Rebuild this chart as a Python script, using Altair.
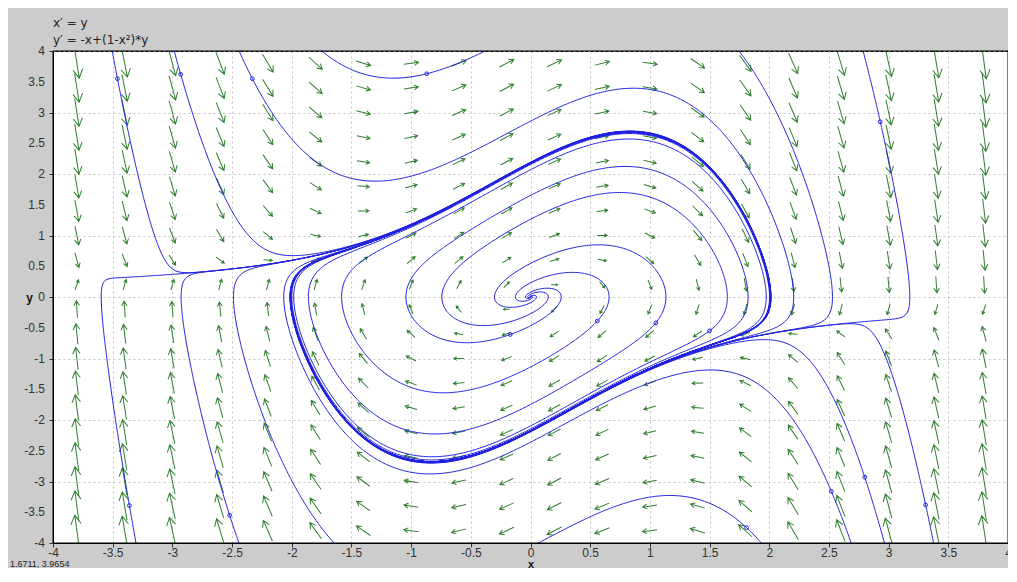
import math
import altair as alt
import numpy as np
import pandas as pd

# ---------------- data ----------------
# system shown on the chart: x' = y, y' = -x + (1 - x^2) * y
grid_x = [-3.8, -3.4, -3.0, -2.6, -2.2, -1.8, -1.4, -1.0, -0.6, -0.2,
          0.2, 0.6, 1.0, 1.4, 1.8, 2.2, 2.6, 3.0, 3.4, 3.8]
grid_y = [-3.8, -3.4, -3.0, -2.6, -2.2, -1.8, -1.4, -1.0, -0.6, -0.2,
          0.2, 0.6, 1.0, 1.4, 1.8, 2.2, 2.6, 3.0, 3.4, 3.8]

# initial points of the solution curves (small circles)
seed_x = [-3.46, -2.93, -2.33, -0.87, 2.93, -3.36, -2.52, -2.22, 1.81,
          2.52, 2.80, 3.31, 1.75, 0.56, 1.05, 1.50, -0.17]
seed_y = [3.55, 3.62, 3.55, 3.63, 2.85, -3.39, -3.55, -2.04, -3.75,
          -3.16, -2.93, -3.38, 3.99, -0.39, -0.42, -0.55, -0.61]
seed_marked = [1, 1, 1, 1, 1, 1, 1, 0, 1, 1, 1, 1, 0, 1, 1, 1, 1]

tick_values = [-4, -3.5, -3, -2.5, -2, -1.5, -1, -0.5, 0,
               0.5, 1, 1.5, 2, 2.5, 3, 3.5, 4]
tick_labels = ["-4", "-3.5", "-3", "-2.5", "-2", "-1.5", "-1", "-0.5", "0",
               "0.5", "1", "1.5", "2", "2.5", "3", "3.5", "4"]

eq1 = "x\u2032 = y"
eq2 = "y\u2032 = -x+(1-x\u00b2)*y"
coord_text = "1.6711, 3.9654"

# ---------------- layout ----------------
W, H = 955, 492
PX, PY = W / 8.0, H / 8.0


def rhs(x, y):
    return y, -x + (1.0 - x * x) * y


def integrate(x0, y0, direction, tmax):
    pts = [(x0, y0)]
    x, y, t = x0, y0, 0.0
    steps = 0
    while t < tmax and steps < 60000:
        steps += 1
        fx, fy = rhs(x, y)
        sp = math.hypot(fx * PX, fy * PY)
        dt = min(0.02, 0.5 / max(sp, 1e-9))
        h = direction * dt
        k1x, k1y = fx, fy
        k2x, k2y = rhs(x + 0.5 * h * k1x, y + 0.5 * h * k1y)
        k3x, k3y = rhs(x + 0.5 * h * k2x, y + 0.5 * h * k2y)
        k4x, k4y = rhs(x + h * k3x, y + h * k3y)
        x += h / 6.0 * (k1x + 2 * k2x + 2 * k3x + k4x)
        y += h / 6.0 * (k1y + 2 * k2y + 2 * k3y + k4y)
        t += dt
        pts.append((x, y))
        if abs(x) > 4.15 or abs(y) > 4.15:
            break
        if direction < 0 and math.hypot(x, y) < 0.004:
            break
    return pts


def thin(pts, dmin=1.5):
    out = [pts[0]]
    for p in pts[1:]:
        q = out[-1]
        if math.hypot((p[0] - q[0]) * PX, (p[1] - q[1]) * PY) >= dmin:
            out.append(p)
    if out[-1] != pts[-1]:
        out.append(pts[-1])
    return out


rows = []
tid = 0
for sx, sy in zip(seed_x, seed_y):
    for d in (1, -1):
        pts = thin(integrate(sx, sy, d, 20.0 if d > 0 else 40.0))
        for i, (px, py) in enumerate(pts):
            rows.append({"tid": tid, "i": i, "x": px, "y": py})
        tid += 1
traj = pd.DataFrame(rows)

seeds = pd.DataFrame({"x": seed_x, "y": seed_y, "m": seed_marked})
seeds = seeds[seeds["m"] == 1]

arows = []
for gx in grid_x:
    for gy in grid_y:
        u, v = rhs(gx, gy)
        m = math.hypot(u, v)
        ang = (math.degrees(math.atan2(u * PX, v * PY)) + 360.0) % 360.0
        L = 10.06 * m ** 0.284
        arows.append({"x": gx, "y": gy, "ang": ang, "size": L * L})
arrows = pd.DataFrame(arows)

ylab = pd.DataFrame({"v": tick_values, "t": tick_labels})

# ---------------- chart ----------------
xs = alt.Scale(domain=[-4, 4], nice=False, zero=False)
ys = alt.Scale(domain=[-4, 4], nice=False, zero=False)

common_axis = dict(
    values=tick_values, grid=True, gridDash=[2, 3], gridColor="#c4c4c4",
    tickSize=4, labelFontSize=12, labelColor="#333333",
    tickColor="#333333", domainColor="#000000",
    labelFont="Liberation Sans", titleFont="Liberation Sans",
    labelOverlap=False, labelFlush=False, titleFontWeight="bold",
    titleColor="#111111",
)
x_axis = alt.Axis(title="x", titleY=24, titleBaseline="alphabetic",
                  titleFontSize=11, labelPadding=0,
                  labelExpr="toString(datum.value)", **common_axis)
y_axis = alt.Axis(title="y", titleAngle=0, titleX=-24, titleY=H / 2,
                  titleAlign="center", titleBaseline="middle",
                  titleFontSize=12, labels=False, **common_axis)

arrow_path = "M0,1L0,-1M-0.33,-0.42L0,-1L0.33,-0.42"

arrow_layer = alt.Chart(arrows).mark_point(
    shape=arrow_path, filled=False, stroke="#2f7f2f", strokeWidth=1,
    opacity=1, clip=True
).encode(
    x=alt.X("x:Q", scale=xs, axis=x_axis),
    y=alt.Y("y:Q", scale=ys, axis=y_axis),
    angle=alt.Angle("ang:Q", scale=None),
    size=alt.Size("size:Q", scale=None),
)

line_layer = alt.Chart(traj).mark_line(
    color="#2020e0", strokeWidth=1, clip=True
).encode(
    x=alt.X("x:Q", scale=xs),
    y=alt.Y("y:Q", scale=ys),
    detail="tid:N",
    order="i:Q",
)

seed_layer = alt.Chart(seeds).mark_point(
    shape="circle", filled=False, color="#2020e0", size=14, strokeWidth=1,
    opacity=1
).encode(
    x=alt.X("x:Q", scale=xs),
    y=alt.Y("y:Q", scale=ys),
)

ylabel_layer = alt.Chart(ylab).mark_text(
    align="right", baseline="middle", fontSize=12, font="Liberation Sans",
    color="#333333"
).encode(
    x=alt.value(-8),
    y=alt.Y("v:Q", scale=ys),
    text="t:N",
)

frame_layer = alt.Chart(pd.DataFrame({"k": [0]})).mark_rect(
    filled=False, stroke="#000000", strokeWidth=1
).encode(
    x=alt.value(0), x2=alt.value(W), y=alt.value(0), y2=alt.value(H)
)


def label_layer(text, px, py, size, font, baseline):
    return alt.Chart(pd.DataFrame({"t": [text]})).mark_text(
        align="left", baseline=baseline, fontSize=size, font=font,
        color="#222222"
    ).encode(x=alt.value(px), y=alt.value(py), text="t:N")


eq1_layer = label_layer(eq1, 0, -24, 12, "DejaVu Sans", "alphabetic")
eq2_layer = label_layer(eq2, 0, -7, 12, "DejaVu Sans", "alphabetic")
coord_layer = label_layer(coord_text, -43, H + 24, 9, "Liberation Sans",
                          "alphabetic")

chart = alt.layer(arrow_layer, line_layer, seed_layer, ylabel_layer,
                  frame_layer, eq1_layer, eq2_layer, coord_layer).properties(
    width=W, height=H,
    autosize=alt.AutoSizeParams(type="none"),
    padding={"left": 45, "top": 43, "right": 0, "bottom": 25},
    background="#cccccc",
).configure_view(
    stroke="#000000", strokeWidth=1, fill="#ffffff"
)

chart.save("out.html", embed_options={"renderer": "svg", "actions": False})
